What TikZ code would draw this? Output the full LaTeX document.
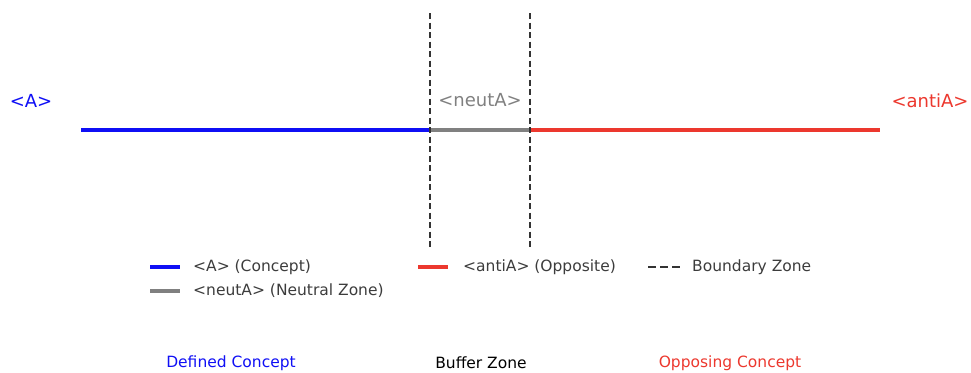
\documentclass[tikz,border=0pt]{standalone}
\usepackage{fontspec}
\setmainfont{DejaVu Sans}
\definecolor{conceptblue}{RGB}{15,15,245}
\definecolor{oppred}{RGB}{236,56,46}
\definecolor{neutgray}{RGB}{128,128,128}
\definecolor{txtgray}{RGB}{60,60,60}
\tikzset{
  zone/.style = {line width=4pt},
  boundary/.style = {line width=2.2pt, dash pattern=on 6pt off 3.5pt, black!80},
  toplabel/.style = {font=\fontsize{18}{20}\selectfont, inner sep=0pt},
  legtext/.style = {font=\fontsize{15.5}{18}\selectfont, inner sep=0pt, anchor=west, txtgray},
  botlabel/.style = {font=\fontsize{15.5}{18}\selectfont, inner sep=0pt}
}
\begin{document}
\begin{tikzpicture}[x=1pt,y=-1pt]
\useasboundingbox (0,0) rectangle (971,372);
% main line
\coordinate (start) at (81,130);
\coordinate (left) at (430,130);
\coordinate (right) at (530,130);
\coordinate (end) at (880,130);
\draw[zone,conceptblue] (start) -- (left);
\draw[zone,neutgray] (left) -- (right);
\draw[zone,oppred] (right) -- (end);
% boundaries
\coordinate (lt) at (430,13);
\coordinate (lb) at (430,250);
\coordinate (rt) at (530,13);
\coordinate (rb) at (530,250);
\draw[boundary] (lt) -- (lb);
\draw[boundary] (rt) -- (rb);
% labels
\node[toplabel,conceptblue] (A) at (31,101) {<A>};
\node[toplabel,neutgray] (neutA) at (480,100) {<neutA>};
\node[toplabel,oppred] (antiA) at (930,101) {<antiA>};
% legend
\coordinate (l1a) at (150,267); \coordinate (l1b) at (180,267);
\coordinate (l2a) at (150,291); \coordinate (l2b) at (180,291);
\coordinate (l3a) at (418,267); \coordinate (l3b) at (448,267);
\coordinate (l4a) at (648,267); \coordinate (l4b) at (682,267);
\draw[zone,conceptblue] (l1a) -- (l1b);
\draw[zone,neutgray] (l2a) -- (l2b);
\draw[zone,oppred] (l3a) -- (l3b);
\draw[boundary,dash pattern=on 8pt off 4pt] (l4a) -- (l4b);
\node[legtext] (legA) at (193,267) {<A> (Concept)};
\node[legtext] (legneut) at (193,291) {<neutA> (Neutral Zone)};
\node[legtext] (leganti) at (463,267) {<antiA> (Opposite)};
\node[legtext] (legbound) at (692,267) {Boundary Zone};
% zone names
\node[botlabel,conceptblue] (defined) at (231,363) {Defined Concept};
\node[botlabel,black] (buffer) at (481,363) {Buffer Zone};
\node[botlabel,oppred] (opposing) at (730,363) {Opposing Concept};
\end{tikzpicture}
\end{document}
